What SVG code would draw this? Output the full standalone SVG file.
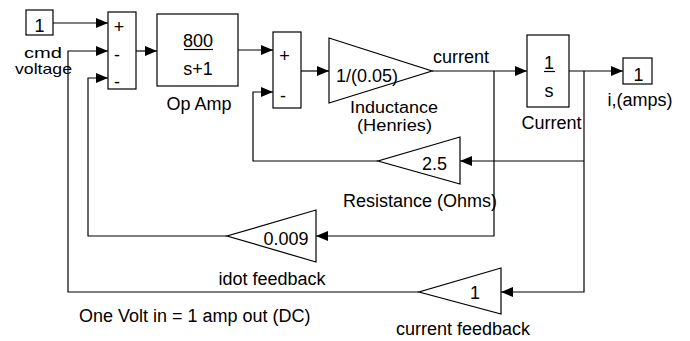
<svg xmlns="http://www.w3.org/2000/svg" width="690" height="341" viewBox="0 0 690 341">
<defs>
<marker id="arr" markerUnits="userSpaceOnUse" markerWidth="13" markerHeight="11" refX="12" refY="5" orient="auto">
<path d="M0,0 L12,5 L0,10 z" fill="#000"/>
</marker>
</defs>
<style>
.b{fill:#fff;stroke:#000;stroke-width:1.2}
.c{fill:none;stroke:#000;stroke-width:1.2}
.a{marker-end:url(#arr)}
text{font-family:"Liberation Sans",Arial,sans-serif;font-size:18px;fill:#000}
.m{text-anchor:middle}
.s{font-size:14.5px}
.t{font-size:16px}
.u{stroke:#000;stroke-width:1.2}
</style>
<rect width="690" height="341" fill="#fff"/>
<g id="connectors">
<path class="c a" d="M53,23 H108"/>
<path class="c a" d="M136,51 H157"/>
<path class="c a" d="M238,50 H273"/>
<path class="c a" d="M301,71 H329"/>
<path class="c a" d="M432,71 H527"/>
<path class="c a" d="M494,71 V236 H316"/>
<path class="c a" d="M569,71 H623"/>
<path class="c a" d="M584,71 V292 H501"/>
<path class="c a" d="M584,161 H460"/>
<path class="c a" d="M378,161 H253 V92 H273"/>
<path class="c a" d="M227,236 H88 V78 H108"/>
<path class="c a" d="M419,292 H68 V51 H108"/>
</g>
<g id="cmd">
<rect class="b" x="26" y="10" width="27" height="25"/>
<text class="m" x="39.5" y="32">1</text>
<text class="m s" x="43" y="57.5" textLength="38" lengthAdjust="spacingAndGlyphs">cmd</text>
<text class="m s" x="43.5" y="74" textLength="57" lengthAdjust="spacingAndGlyphs">voltage</text>
</g>
<g id="sum1">
<rect class="b" x="108" y="12" width="28" height="77"/>
<text class="m" x="119" y="33">+</text>
<text class="m" x="117" y="61">-</text>
<text class="m" x="117" y="88">-</text>
</g>
<g id="opamp">
<rect class="b" x="157" y="14" width="81" height="72"/>
<text class="m" x="198" y="47">800</text>
<line class="u" x1="184" y1="49.5" x2="213" y2="49.5"/>
<text class="m" x="198" y="75">s+1</text>
<text class="m" x="199" y="110">Op Amp</text>
</g>
<g id="sum2">
<rect class="b" x="273" y="32" width="28" height="76"/>
<text class="m" x="284.5" y="62">+</text>
<text class="m" x="283" y="102">-</text>
</g>
<g id="inductance">
<path class="b" d="M329,38 L432,71 L329,103 z"/>
<text class="m" x="367" y="82">1/(0.05)</text>
<text class="m t" x="394" y="113" textLength="88" lengthAdjust="spacingAndGlyphs">Inductance</text>
<text class="m t" x="394.5" y="131" textLength="75" lengthAdjust="spacingAndGlyphs">(Henries)</text>
<text x="433" y="63">current</text>
</g>
<g id="integrator">
<rect class="b" x="527" y="35" width="42" height="72"/>
<text class="m" x="549" y="69">1</text>
<line class="u" x1="544" y1="71.5" x2="555" y2="71.5"/>
<text class="m" x="549" y="97">s</text>
<text class="m" x="551.5" y="129">Current</text>
</g>
<g id="out">
<rect class="b" x="623" y="58" width="29" height="26"/>
<text class="m" x="638.5" y="81">1</text>
<text class="m" x="640" y="106">i,(amps)</text>
</g>
<g id="resistance">
<path class="b" d="M460,137 L378,161 L460,184 z"/>
<text class="m" x="434.5" y="170">2.5</text>
<text class="m" x="420" y="207">Resistance (Ohms)</text>
</g>
<g id="idot">
<path class="b" d="M316,210 L227,236 L316,262 z"/>
<text class="m" x="286" y="245">0.009</text>
<text class="m" x="272" y="285">idot feedback</text>
</g>
<g id="currentfb">
<path class="b" d="M501,268 L419,292 L501,314 z"/>
<text class="m" x="475" y="299">1</text>
<text class="m" x="463" y="335">current feedback</text>
</g>
<text x="79" y="322">One Volt in = 1 amp out (DC)</text>
</svg>
